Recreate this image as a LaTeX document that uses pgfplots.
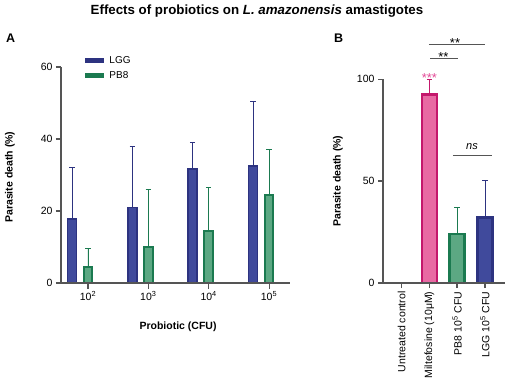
\documentclass[border=0pt]{standalone}
\usepackage{fontspec}
\setmainfont{Liberation Sans}
\usepackage{pgfplots}
\pgfplotsset{compat=1.18}

\definecolor{ink}{HTML}{555555}
\definecolor{lggfill}{HTML}{404A9C}
\definecolor{lggdark}{HTML}{2D3380}
\definecolor{pbfill}{HTML}{5CA883}
\definecolor{pbdark}{HTML}{1B7A50}
\definecolor{milfill}{HTML}{E86AA3}
\definecolor{mildark}{HTML}{C4186C}
\definecolor{starpink}{HTML}{E34D98}
\definecolor{siggray}{HTML}{555555}

\pgfplotsset{
  panel/.style={
    scale only axis,
    axis x line*=bottom,
    axis y line*=left,
    every outer x axis line/.append style={ink, line width=2.4pt},
    every outer y axis line/.append style={ink, line width=2.4pt},
    tick align=outside,
    major tick length=5pt,
    every tick/.style={ink, line width=1.6pt},
    tick label style={font=\fontsize{10.5}{12}\selectfont},
    label style={font=\bfseries\fontsize{10.5}{12}\selectfont},
    /pgf/number format/assume math mode=true,
    clip=false,
  },
  % error bars only upward, with a short cap
  ebar/.style 2 args={
    error bars/y dir=plus,
    error bars/y explicit,
    error bars/error bar style={line width=#1, color=#2},
    error bars/error mark options={rotate=90, line width=#1, mark size=2.8pt, color=#2},
  },
}
% L-shaped frame of a panel
\newcommand{\panelframe}[2]{%
  \draw[ink, line width=2.4pt] (axis cs:#1,#2) -- (axis cs:#1,0);
  \draw[ink, line width=2.4pt] (axis cs:#1,0) -- (axis description cs:1,0);}

\begin{document}
\begin{tikzpicture}
\useasboundingbox (0,0) rectangle (514pt,389pt);

% figure title and panel letters
\node[anchor=base, font=\bfseries\fontsize{13.3}{15}\selectfont] at (257pt,374pt)
  {Effects of probiotics on \textit{L. amazonensis} amastigotes};
\node[anchor=base west, font=\bfseries\fontsize{12.5}{14}\selectfont, inner sep=0pt] at (6pt,346pt) {A};
\node[anchor=base west, font=\bfseries\fontsize{12.5}{14}\selectfont, inner sep=0pt] at (334pt,346pt) {B};

% ---------------- Panel A: dose response ----------------
\begin{axis}[
  panel,
  at={(61pt,106pt)}, anchor=south west,
  width=229pt, height=216pt,
  xmin=-0.4475, xmax=3.348,
  ymin=0, ymax=60,
  ytick={0,20,40,60},
  xtick={0,1,2,3},
  xticklabels={10\textsuperscript{2},10\textsuperscript{3},10\textsuperscript{4},10\textsuperscript{5}},
  xtick style={line width=1pt},
  xlabel={Probiotic (CFU)},
  ylabel={Parasite death (\%)},
  xlabel style={at={(axis description cs:0.511,-0.204)}, anchor=center},
  ylabel style={at={(axis description cs:-0.2227,0.49)}, anchor=center},
  legend style={draw=none, fill=none, at={(axis description cs:0.093,1.07)},
    anchor=north west, row sep=3pt, font=\fontsize{10}{11}\selectfont,
    cells={anchor=west}},
]
\addlegendimage{legend image code/.code={\fill[lggdark, draw=none] (0pt,-2.6pt) rectangle (19pt,2.6pt); \path[draw=none, fill=none] (0pt,0pt) -- (22pt,0pt);}}
\addlegendentry{LGG}
\addlegendimage{legend image code/.code={\fill[pbdark, draw=none] (0pt,-2.6pt) rectangle (19pt,2.6pt); \path[draw=none, fill=none] (0pt,0pt) -- (22pt,0pt);}}
\addlegendentry{PB8}

% LGG
\addplot[forget plot, ybar, bar shift=0pt, bar width=9pt, fill=lggfill, draw=lggdark,
  line width=1.6pt, ebar={0.8pt}{lggdark}]
coordinates {
  (-0.265,17.7) +- (0,14.5)
  (0.735,21.0)  +- (0,16.9)
  (1.735,31.7)  +- (0,7.4)
  (2.735,32.5)  +- (0,17.9)
};
% PB8
\addplot[forget plot, ybar, bar shift=0pt, bar width=8.5pt, fill=pbfill, draw=pbdark,
  line width=2pt, ebar={0.8pt}{pbdark}]
coordinates {
  (0,4.4)  +- (0,5.1)
  (1,10.0) +- (0,16.0)
  (2,14.4) +- (0,12.1)
  (3,24.4) +- (0,12.8)
};

% axis frame and tick marks
\panelframe{-0.4475}{60}
\draw[ink, line width=1.6pt] (axis cs:-0.4475,0)  -- (axis cs:-0.52,0);
\draw[ink, line width=1.6pt] (axis cs:-0.4475,20) -- (axis cs:-0.52,20);
\draw[ink, line width=1.6pt] (axis cs:-0.4475,40) -- (axis cs:-0.52,40);
\draw[ink, line width=1.6pt] (axis cs:-0.4475,60) -- (axis cs:-0.52,60);
\draw[ink, line width=1pt] (axis cs:0,0) -- (axis cs:0,-1.6);
\draw[ink, line width=1pt] (axis cs:1,0) -- (axis cs:1,-1.6);
\draw[ink, line width=1pt] (axis cs:2,0) -- (axis cs:2,-1.6);
\draw[ink, line width=1pt] (axis cs:3,0) -- (axis cs:3,-1.6);
\end{axis}

% ---------------- Panel B: comparison with miltefosine ----------------
\begin{axis}[
  panel,
  at={(383pt,106pt)}, anchor=south west,
  width=122pt, height=203.7pt,
  xmin=-0.673, xmax=3.72,
  ymin=0, ymax=100,
  ytick={0,50,100},
  xtick={0,1,2,3},
  xticklabels={Untreated control, Miltefosine (10μM), PB8 10\textsuperscript{5} CFU, LGG 10\textsuperscript{5} CFU},
  xticklabel style={rotate=90, anchor=east},
  ylabel={Parasite death (\%)},
  ylabel style={at={(axis description cs:-0.369,0.5)}, anchor=center},
]
% Miltefosine
\addplot[ybar, bar shift=0pt, bar width=15pt, fill=milfill, draw=mildark, line width=2.6pt,
  ebar={0.9pt}{mildark}]
coordinates {(1,92.6) +- (0,7.4)};
% PB8 10^5
\addplot[ybar, bar shift=0pt, bar width=15pt, fill=pbfill, draw=pbdark, line width=2.6pt,
  ebar={0.9pt}{pbdark}]
coordinates {(2,24.1) +- (0,12.9)};
% LGG 10^5
\addplot[ybar, bar shift=0pt, bar width=15pt, fill=lggfill, draw=lggdark, line width=2.6pt,
  ebar={0.9pt}{lggdark}]
coordinates {(3,32.3) +- (0,17.9)};

% axis frame and tick marks
\panelframe{-0.673}{100}
\draw[ink, line width=1.6pt] (axis cs:-0.673,0)   -- (axis cs:-0.853,0);
\draw[ink, line width=1.6pt] (axis cs:-0.673,50)  -- (axis cs:-0.853,50);
\draw[ink, line width=1.6pt] (axis cs:-0.673,100) -- (axis cs:-0.853,100);
\draw[ink, line width=1.6pt] (axis cs:0,0) -- (axis cs:0,-2.5);
\draw[ink, line width=1.6pt] (axis cs:1,0) -- (axis cs:1,-2.5);
\draw[ink, line width=1.6pt] (axis cs:2,0) -- (axis cs:2,-2.5);
\draw[ink, line width=1.6pt] (axis cs:3,0) -- (axis cs:3,-2.5);

% significance annotations
\node[anchor=base, text=starpink, font=\fontsize{13}{14}\selectfont, inner sep=0pt]
  at (axis cs:1,98.2) {***};
\draw[line width=1pt, siggray] (axis cs:0.98,117.3) -- (axis cs:3.01,117.3);
\node[anchor=base, font=\fontsize{13}{14}\selectfont, inner sep=0pt] at (axis cs:1.92,115.8) {**};
\draw[line width=1pt, siggray] (axis cs:1.02,110.1) -- (axis cs:2.01,110.1);
\node[anchor=base, font=\fontsize{13}{14}\selectfont, inner sep=0pt] at (axis cs:1.5,108.6) {**};
\draw[line width=1pt, siggray] (axis cs:1.84,62.5) -- (axis cs:3.24,62.5);
\node[anchor=base, font=\itshape\fontsize{11}{12}\selectfont, inner sep=0pt] at (axis cs:2.53,65.6) {ns};
\end{axis}
\end{tikzpicture}
\end{document}
